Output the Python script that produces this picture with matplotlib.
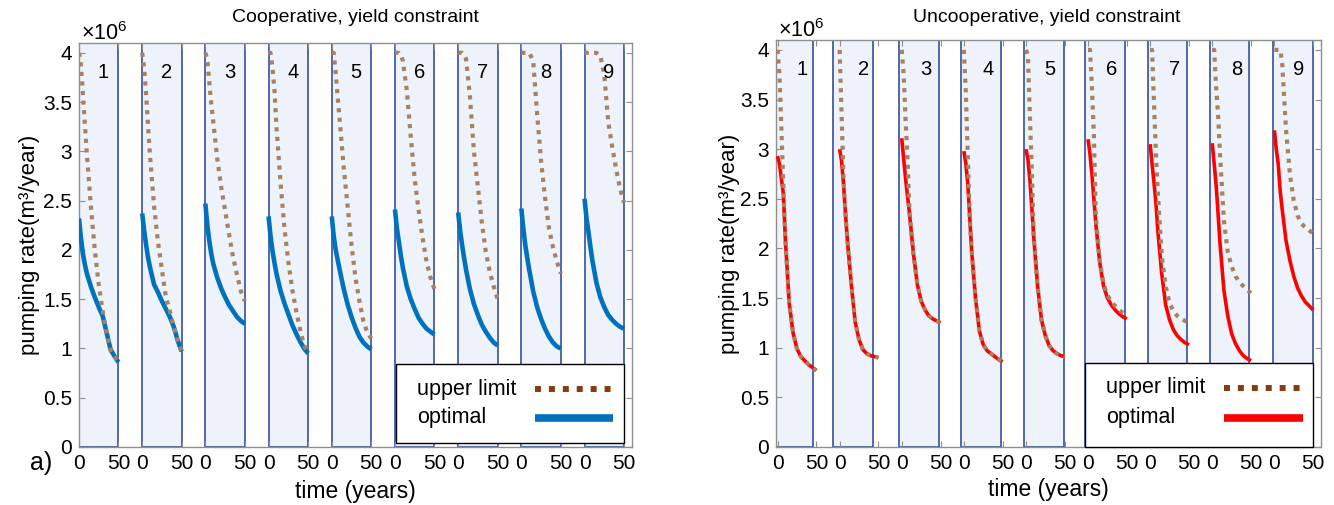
import numpy as np
import matplotlib
matplotlib.use('Agg')
import matplotlib.pyplot as plt
from matplotlib.lines import Line2D
from matplotlib.patches import Rectangle
from matplotlib.ticker import FuncFormatter

plt.rcParams['font.family'] = ['Liberation Sans', 'DejaVu Sans']
plt.rcParams['mathtext.fontset'] = 'custom'
plt.rcParams['mathtext.rm'] = 'Liberation Sans'

# time axis shared by every well (years)
t = np.array([0, 2.5, 5, 7.5, 10, 15, 20, 25, 30, 35, 40, 45, 50])
wells = ['1', '2', '3', '4', '5', '6', '7', '8', '9']

# pumping rates, 1e6 m3/year
coop_upper = [
    [4.00, 3.88, 3.58, 3.27, 2.97, 2.45, 2.00, 1.65, 1.38, 1.16, 0.98, 0.92, 0.86],
    [4.00, 3.85, 3.58, 3.25, 2.95, 2.45, 2.08, 1.80, 1.52, 1.38, 1.22, 1.08, 0.97],
    [4.00, 3.93, 3.70, 3.48, 3.30, 2.93, 2.64, 2.40, 2.16, 1.93, 1.75, 1.58, 1.48],
    [4.00, 4.00, 3.85, 3.62, 3.25, 2.70, 2.23, 1.88, 1.60, 1.38, 1.19, 1.03, 0.95],
    [4.00, 4.00, 3.80, 3.55, 3.32, 2.85, 2.45, 2.05, 1.72, 1.48, 1.28, 1.16, 1.10],
    [4.00, 4.00, 4.00, 3.98, 3.92, 3.62, 3.15, 2.72, 2.40, 2.12, 1.88, 1.72, 1.60],
    [4.00, 4.00, 4.00, 3.98, 3.94, 3.55, 3.00, 2.64, 2.28, 1.98, 1.78, 1.63, 1.50],
    [4.00, 4.00, 4.00, 4.00, 4.00, 3.92, 3.38, 2.90, 2.53, 2.22, 2.03, 1.88, 1.76],
    [4.00, 4.00, 4.00, 4.00, 4.00, 4.00, 3.97, 3.78, 3.30, 3.05, 2.82, 2.62, 2.48],
]
coop_opt = [
    [2.32, 2.12, 1.96, 1.85, 1.76, 1.63, 1.52, 1.42, 1.33, 1.16, 0.99, 0.92, 0.86],
    [2.37, 2.20, 2.05, 1.92, 1.82, 1.65, 1.57, 1.48, 1.40, 1.32, 1.22, 1.08, 0.97],
    [2.47, 2.25, 2.09, 1.96, 1.86, 1.72, 1.61, 1.52, 1.44, 1.38, 1.32, 1.28, 1.25],
    [2.34, 2.14, 1.99, 1.87, 1.76, 1.59, 1.46, 1.35, 1.24, 1.15, 1.07, 1.00, 0.95],
    [2.34, 2.14, 2.00, 1.90, 1.80, 1.61, 1.45, 1.32, 1.21, 1.12, 1.06, 1.02, 0.99],
    [2.41, 2.22, 2.08, 1.94, 1.82, 1.63, 1.50, 1.40, 1.31, 1.25, 1.20, 1.17, 1.14],
    [2.38, 2.20, 2.05, 1.92, 1.80, 1.60, 1.45, 1.34, 1.24, 1.17, 1.11, 1.06, 1.03],
    [2.42, 2.22, 2.05, 1.92, 1.80, 1.58, 1.42, 1.30, 1.20, 1.12, 1.06, 1.02, 1.00],
    [2.52, 2.32, 2.18, 2.03, 1.89, 1.67, 1.52, 1.42, 1.34, 1.29, 1.25, 1.22, 1.20],
]
uncoop_upper = [
    [4.00, 3.75, 3.20, 2.62, 2.10, 1.45, 1.15, 0.99, 0.91, 0.87, 0.83, 0.80, 0.77],
    [4.00, 3.35, 2.70, 2.35, 2.08, 1.64, 1.26, 1.08, 0.98, 0.94, 0.92, 0.91, 0.90],
    [4.00, 3.75, 3.28, 2.90, 2.35, 1.95, 1.64, 1.47, 1.38, 1.32, 1.29, 1.27, 1.25],
    [4.00, 3.58, 2.95, 2.33, 1.98, 1.50, 1.17, 1.03, 0.97, 0.94, 0.91, 0.88, 0.86],
    [4.00, 3.95, 3.35, 2.80, 2.12, 1.62, 1.28, 1.12, 1.02, 0.97, 0.94, 0.92, 0.91],
    [4.00, 4.00, 3.62, 3.15, 2.32, 1.88, 1.64, 1.53, 1.46, 1.42, 1.38, 1.35, 1.33],
    [4.00, 4.00, 3.45, 2.95, 2.55, 1.92, 1.62, 1.45, 1.37, 1.32, 1.29, 1.27, 1.25],
    [4.00, 4.00, 3.62, 3.35, 2.95, 2.28, 1.96, 1.82, 1.72, 1.66, 1.62, 1.58, 1.55],
    [4.00, 4.00, 4.00, 4.00, 3.88, 3.20, 2.75, 2.48, 2.33, 2.25, 2.21, 2.18, 2.15],
]
uncoop_opt = [
    [2.93, 2.85, 2.70, 2.55, 2.10, 1.45, 1.15, 0.99, 0.91, 0.87, 0.83, 0.80, 0.77],
    [3.00, 2.88, 2.65, 2.35, 2.08, 1.64, 1.26, 1.08, 0.98, 0.94, 0.92, 0.91, 0.90],
    [3.11, 2.90, 2.70, 2.52, 2.35, 1.95, 1.64, 1.47, 1.38, 1.32, 1.29, 1.27, 1.25],
    [2.98, 2.86, 2.66, 2.33, 1.98, 1.50, 1.17, 1.03, 0.97, 0.94, 0.91, 0.88, 0.86],
    [3.00, 2.90, 2.70, 2.42, 2.12, 1.62, 1.28, 1.12, 1.02, 0.97, 0.94, 0.92, 0.91],
    [3.10, 2.95, 2.75, 2.50, 2.25, 1.86, 1.62, 1.50, 1.43, 1.38, 1.34, 1.31, 1.29],
    [3.05, 2.85, 2.66, 2.45, 2.17, 1.74, 1.43, 1.28, 1.18, 1.12, 1.08, 1.05, 1.03],
    [3.06, 2.85, 2.64, 2.35, 2.05, 1.58, 1.32, 1.14, 1.04, 0.97, 0.92, 0.89, 0.87],
    [3.19, 3.00, 2.85, 2.58, 2.40, 2.08, 1.88, 1.72, 1.60, 1.52, 1.46, 1.42, 1.38],
]

# layout: each well gets its own 50-year strip, strips 80 units apart
STEP = 80
coop_boxes = [(0, 50)] * 9
uncoop_boxes = [(-2, 46), (-8.5, 43), (-4, 48), (-4.3, 48.3), (-2.2, 49.6),
                (-3.4, 47.4), (-3.1, 47.8), (-3.5, 47.8), (-1.7, 49.2)]

W, H = 1334, 505
UPPER_C = '#a8825f'
UPPER_LEG = '#8a3a10'
BOX_FACE = '#eef2fa'
BOX_EDGE = '#34509a'
SPINE = '#8f8f8f'


def px(x, y):
    # pixel position (from top-left) -> figure fraction
    return x / W, 1 - y / H


def draw_panel(ax, upper, opt, boxes, opt_color, opt_lw, xmin):
    for i in range(9):
        x0 = i * STEP
        ax.axvspan(x0 + boxes[i][0], x0 + boxes[i][1], ymin=0, ymax=1,
                   facecolor=BOX_FACE, edgecolor=BOX_EDGE, lw=1.2, zorder=1)
        ax.plot(x0 + t, np.array(opt[i]) * 1e6, '-', color=opt_color, lw=opt_lw,
                solid_capstyle='butt', zorder=3)
        ax.plot(x0 + t, np.array(upper[i]) * 1e6, color=UPPER_C, lw=3,
                ls=(0, (1, 1.3)), zorder=4)
        ax.text(x0 + 31, 3.8e6, wells[i], fontsize=14.5, ha='center', va='center', zorder=5)

    ax.set_xlim(xmin, 700)
    ax.set_ylim(0, 4.1e6)
    xt = []
    for i in range(9):
        xt += [i * STEP, i * STEP + 50]
    ax.set_xticks(xt)
    ax.set_xticklabels(['0', '50'] * 9)
    ax.set_yticks(np.arange(0, 4.01e6, 0.5e6))
    ax.yaxis.set_major_formatter(FuncFormatter(lambda v, p: f'{v / 1e6:g}'))
    ax.tick_params(direction='in', length=4, width=0.8, color=SPINE,
                   labelsize=15, top=True, right=True, pad=5)
    for s in ax.spines.values():
        s.set_color(SPINE)
        s.set_linewidth(1)

    ax.set_xlabel('time (years)', fontsize=16.5)
    ax.set_ylabel('pumping rate(m³/year)', fontsize=16)
    ax.text(0.004, 0.995, r'$\times10^{6}$', transform=ax.transAxes,
            ha='left', va='bottom', fontsize=15.5)


def draw_legend(box, text_x, line_x, rows, opt_color):
    # legend frame with labels on the left and line samples on the right
    (x0, y0), (x1, y1) = px(box[0], box[3]), px(box[2], box[1])
    fig.add_artist(Rectangle((x0, y0), x1 - x0, y1 - y0, transform=fig.transFigure,
                             facecolor='white', edgecolor='black', lw=1, zorder=10))
    styles = [dict(color=UPPER_LEG, lw=4.3, ls=(0, (1, 1.33))),
              dict(color=opt_color, lw=5.5, solid_capstyle='butt')]
    for label, y, st in zip(['upper limit', 'optimal'], rows, styles):
        fig.text(*px(text_x, y), label, fontsize=15.5, ha='left', va='center', zorder=11)
        xa, ya = px(line_x[0], y)
        xb, _ = px(line_x[1], y)
        fig.add_artist(Line2D([xa, xb], [ya, ya], transform=fig.transFigure, zorder=11, **st))


fig = plt.figure(figsize=(W / 100, H / 100), dpi=100)
ax1 = fig.add_axes([0.0592, 0.1149, 0.4145, 0.80])
ax2 = fig.add_axes([0.5817, 0.1149, 0.4085, 0.806])

draw_panel(ax1, coop_upper, coop_opt, coop_boxes, '#0072bd', 3.3, 0)
draw_panel(ax2, uncoop_upper, uncoop_opt, uncoop_boxes, '#ff0000', 2.6, -2)

fig.text(*px(355, 18), 'Cooperative, yield constraint', fontsize=14, ha='center', va='center')
fig.text(*px(1047, 18), 'Uncooperative, yield constraint', fontsize=14, ha='center', va='center')

ax1.yaxis.set_label_coords(-0.071, 0.5)
ax1.xaxis.set_label_coords(0.5, -0.082)
ax2.yaxis.set_label_coords(-0.066, 0.5)
ax2.xaxis.set_label_coords(0.5, -0.076)

draw_legend((396, 364, 624, 443), 417, (535, 613), (389, 418), '#0072bd')
draw_legend((1085, 363, 1313, 447), 1106, (1224, 1303), (388, 418), '#ff0000')

fig.text(0.031, 0.083, 'a)', fontsize=18, ha='center', va='center')

fig.savefig('out.png', dpi=100)
